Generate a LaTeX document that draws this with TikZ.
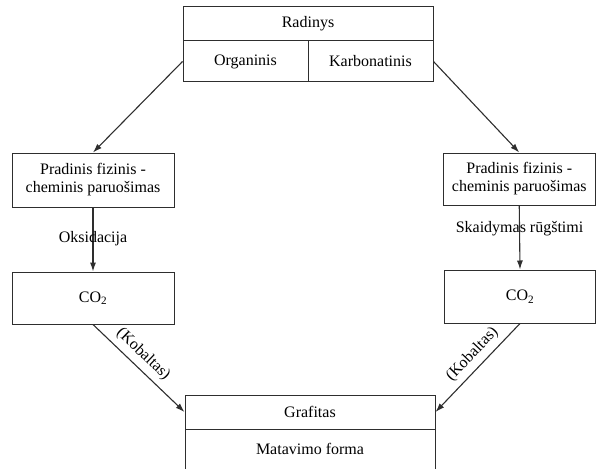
\documentclass[tikz,border=0pt]{standalone}
\usepackage{fontspec}
\setmainfont{Liberation Serif}
\usetikzlibrary{arrows.meta}
\definecolor{ink}{HTML}{2E2E2E}
\begin{document}
\begin{tikzpicture}[x=1pt,y=-1pt,
  cell/.style={draw=ink, line width=1pt, inner sep=0pt, font=\fontsize{16}{18}\selectfont, align=center, text=black},
  arr/.style={draw=ink, line width=1.1pt, -{Latex[length=9pt,width=6pt]}},
  lbl/.style={font=\fontsize{16}{18}\selectfont, text=black}]
\useasboundingbox (0,0) rectangle (596,468);
% top box
\node[cell, minimum width=250pt, minimum height=34pt] (rad) at (308,24) {Radinys};
\node[cell, minimum width=125pt, minimum height=41pt] (org) at (245.5,61.5) {Organinis};
\node[cell, minimum width=125pt, minimum height=41pt] (karb) at (370.5,61.5) {Karbonatinis};
% preparation boxes
\node[cell, minimum width=162pt, minimum height=54pt] (lprep) at (93,180) {Pradinis fizinis -\\cheminis paruošimas};
\node[cell, minimum width=152pt, minimum height=52pt] (rprep) at (519.25,179) {Pradinis fizinis -\\cheminis paruošimas};
% CO2 boxes
\node[cell, minimum width=162pt, minimum height=52pt] (lco) at (93,298) {CO\textsubscript{2}};
\node[cell, minimum width=151pt, minimum height=53pt] (rco) at (520,296.5) {CO\textsubscript{2}};
% bottom box
\node[cell, minimum width=250pt, minimum height=34pt] (graf) at (310,412) {Grafitas};
\node[cell, minimum width=250pt, minimum height=44pt, text depth=0pt] (mat) at (310,451) {};
\node[lbl] (matlbl) at (310,449) {Matavimo forma};
% arrows
\draw[arr] (org.west) -- (lprep.north);
\draw[arr] (karb.east) -- (rprep.north);
\draw[arr] (lprep.south) -- node[lbl, pos=0.48] {Oksidacija} (lco.north);
\draw[arr] (rprep.south) -- node[lbl, pos=0.36] {Skaidymas rūgštimi} (rco.north);
\draw[arr] (lco.south) -- node[lbl, sloped, above, pos=0.45, yshift=2pt] {(Kobaltas)} (graf.west);
\draw[arr] (rco.south) -- node[lbl, sloped, above, pos=0.45, yshift=2pt] {(Kobaltas)} (graf.east);
\end{tikzpicture}
\end{document}
